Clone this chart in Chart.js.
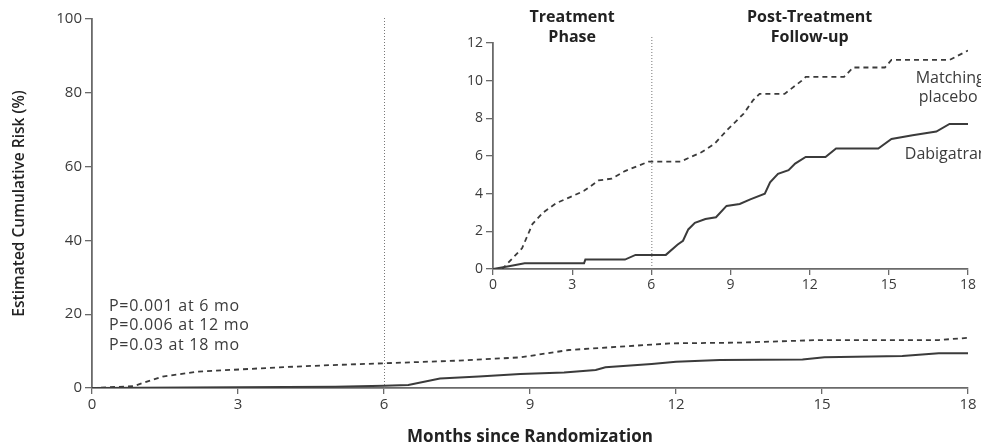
<!DOCTYPE html>
<html>
<head>
<meta charset="utf-8">
<script src="https://cdn.jsdelivr.net/npm/chart.js@4"></script>
<style>
  body { margin: 0; background: #fff; }
  #wrap { position: relative; width: 981px; height: 447px; overflow: hidden; }
  #main { position: absolute; left: 0; top: 0; }
  #inset { position: absolute; left: 440px; top: 0; }
</style>
</head>
<body>
<div id="wrap">
  <canvas id="main" width="981" height="447"></canvas>
  <canvas id="inset" width="541" height="300"></canvas>
</div>
<script>
// main plot, months since randomization vs estimated cumulative risk (%)
var mainPlaceboMonths = [0, 0.85, 1.45, 2.15, 2.85, 3.85, 4.9, 6.0, 7.5, 8.8, 9.8, 10.85, 11.9, 13.3, 14.95, 17.4, 18];
var mainPlaceboRisk = [0, 0.5, 3.1, 4.4, 4.9, 5.6, 6.2, 6.7, 7.4, 8.3, 10.3, 11.2, 12.1, 12.3, 13.0, 13.0, 13.6];
var mainDabiMonths = [0, 1.0, 5.0, 6.0, 6.5, 7.15, 7.95, 8.8, 9.7, 10.35, 10.55, 11.5, 12.0, 12.9, 14.6, 15.05, 16.65, 17.4, 18];
var mainDabiRisk = [0, 0.1, 0.35, 0.6, 0.8, 2.6, 3.1, 3.8, 4.2, 4.9, 5.6, 6.5, 7.1, 7.6, 7.7, 8.3, 8.7, 9.4, 9.4];

// inset, zoomed y axis
var insetPlaceboMonths = [0, 0.35, 1.1, 1.5, 1.9, 2.4, 2.9, 3.45, 4.0, 4.5, 5.0, 5.9, 7.1, 7.9, 8.4, 8.85, 9.5, 9.85, 10.1, 11.05, 11.7, 11.85, 13.3, 13.65, 14.85, 15.1, 17.3, 18];
var insetPlaceboRisk = [0, 0, 1.1, 2.4, 3.0, 3.5, 3.8, 4.15, 4.7, 4.8, 5.2, 5.7, 5.7, 6.2, 6.65, 7.35, 8.25, 8.95, 9.3, 9.3, 10.0, 10.2, 10.2, 10.7, 10.7, 11.1, 11.1, 11.6];
var insetDabiMonths = [0, 0.6, 1.2, 3.45, 3.5, 5.0, 5.4, 6.55, 7.0, 7.2, 7.4, 7.65, 8.05, 8.45, 8.85, 9.35, 9.75, 10.3, 10.5, 10.8, 11.2, 11.45, 11.85, 12.6, 13.0, 14.6, 15.1, 15.9, 16.8, 17.3, 18];
var insetDabiRisk = [0, 0.15, 0.3, 0.3, 0.5, 0.5, 0.75, 0.75, 1.3, 1.5, 2.1, 2.45, 2.65, 2.75, 3.35, 3.45, 3.7, 4.0, 4.6, 5.05, 5.25, 5.6, 5.95, 5.95, 6.4, 6.4, 6.9, 7.1, 7.3, 7.7, 7.7];

var monthTicks = [0, 3, 6, 9, 12, 15, 18];
var mainRiskTicks = [0, 20, 40, 60, 80, 100];
var insetRiskTicks = [0, 2, 4, 6, 8, 10, 12];
var treatmentEnd = 6;
var pNotes = ['P=0.001 at 6 mo', 'P=0.006 at 12 mo', 'P=0.03 at 18 mo'];
var phaseLabels = [['Treatment', 'Phase'], ['Post-Treatment', 'Follow-up']];
var seriesNames = ['Matching placebo', 'Dabigatran'];

var ink = '#3b3b3b';
var axisInk = '#6a6a6a';
var fontFam = '"Open Sans", sans-serif';

function zip(xs, ys) {
	var out = [];
	for (var i = 0; i < xs.length; i++) out.push({x: xs[i], y: ys[i]});
	return out;
}

function tickList(list) {
	return function(scale) {
		scale.ticks = list.map(function(v) { return {value: v}; });
	};
}

function makeAxes(yTicks, yMax, xSize, ySize, fontSize, withTitles) {
	return {
		x: {
			type: 'linear', min: 0, max: 18,
			afterBuildTicks: tickList(monthTicks),
			ticks: {color: ink, font: {family: fontFam, size: fontSize}, padding: 2, maxRotation: 0},
			grid: {drawOnChartArea: false, tickLength: 6, color: axisInk, lineWidth: 1.3},
			border: {color: axisInk, width: 1.8},
			title: {display: withTitles, text: 'Months since Randomization', color: '#222',
				font: {family: fontFam, size: 17, weight: 'bold'}, padding: {top: 0, bottom: 0}},
			afterFit: function(s) { s.height = xSize; }
		},
		y: {
			type: 'linear', min: 0, max: yMax,
			afterBuildTicks: tickList(yTicks),
			ticks: {color: ink, font: {family: fontFam, size: fontSize}, padding: 3},
			grid: {drawOnChartArea: false, tickLength: 7, color: axisInk, lineWidth: 1.3},
			border: {color: axisInk, width: 1.8},
			title: {display: withTitles, text: 'Estimated Cumulative Risk (%)', color: '#222',
				font: {family: fontFam, size: 15.5, weight: '600'}, padding: {top: 10, bottom: 0}},
			afterFit: function(s) { s.width = ySize; }
		}
	};
}

function lineSets(placebo, dabi) {
	return [
		{label: seriesNames[0], data: placebo, borderColor: ink, borderWidth: 1.8, borderDash: [5, 4],
			pointRadius: 0, fill: false, tension: 0},
		{label: seriesNames[1], data: dabi, borderColor: ink, borderWidth: 2,
			pointRadius: 0, fill: false, tension: 0}
	];
}

// dotted line at end of treatment
var phaseLine = {
	id: 'phaseLine',
	afterDatasetsDraw: function(chart, args, opts) {
		var c = chart.ctx, px = chart.scales.x.getPixelForValue(treatmentEnd);
		c.save();
		c.strokeStyle = '#777';
		c.lineWidth = 1;
		c.setLineDash([1, 2]);
		c.beginPath();
		c.moveTo(px + 0.5, opts.top);
		c.lineTo(px + 0.5, chart.chartArea.bottom);
		c.stroke();
		c.restore();
	}
};

var mainNotes = {
	id: 'mainNotes',
	afterDraw: function(chart) {
		var c = chart.ctx;
		c.save();
		c.fillStyle = ink;
		c.font = '16px ' + fontFam;
		c.letterSpacing = '0.7px';
		c.textBaseline = 'middle';
		pNotes.forEach(function(t, i) { c.fillText(t, 109, 306 + i * 19.5); });
		c.restore();
	}
};

var insetNotes = {
	id: 'insetNotes',
	afterDraw: function(chart) {
		var c = chart.ctx, xs = chart.scales.x;
		c.save();
		c.fillStyle = '#222';
		c.textAlign = 'center';
		c.textBaseline = 'middle';
		c.font = 'bold 16px ' + fontFam;
		[3, 12].forEach(function(m, i) {
			c.fillText(phaseLabels[i][0], xs.getPixelForValue(m), 17);
			c.fillText(phaseLabels[i][1], xs.getPixelForValue(m), 37);
		});
		c.fillStyle = ink;
		c.font = '16px ' + fontFam;
		var lx = xs.getPixelForValue(17.25);
		c.fillText('Matching', lx + 2, 78);
		c.fillText('placebo', lx, 97);
		c.fillText(seriesNames[1], lx - 2, 154);
		c.restore();
	}
};

var baseOpts = {
	responsive: false,
	animation: false,
	events: []
};

new Chart(document.getElementById('main'), {
	type: 'line',
	data: {datasets: lineSets(zip(mainPlaceboMonths, mainPlaceboRisk), zip(mainDabiMonths, mainDabiRisk))},
	options: Object.assign({}, baseOpts, {
		layout: {padding: {top: 19, right: 13, left: 0, bottom: 0}},
		scales: makeAxes(mainRiskTicks, 100, 59, 92, 15, true),
		plugins: {legend: {display: false}, tooltip: {enabled: false}, phaseLine: {top: 18}}
	}),
	plugins: [phaseLine, mainNotes]
});

new Chart(document.getElementById('inset'), {
	type: 'line',
	data: {datasets: lineSets(zip(insetPlaceboMonths, insetPlaceboRisk), zip(insetDabiMonths, insetDabiRisk))},
	options: Object.assign({}, baseOpts, {
		layout: {padding: {top: 43, right: 13, left: 0, bottom: 0}},
		scales: makeAxes(insetRiskTicks, 12, 31, 53, 14, false),
		plugins: {legend: {display: false}, tooltip: {enabled: false}, phaseLine: {top: 37}}
	}),
	plugins: [phaseLine, insetNotes]
});
</script>
</body>
</html>
